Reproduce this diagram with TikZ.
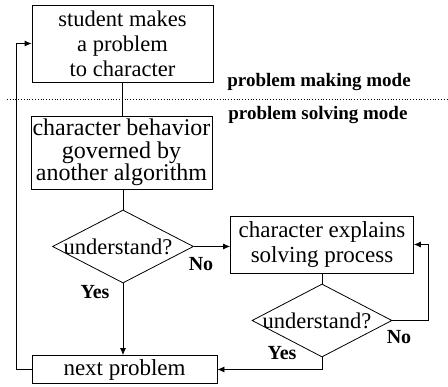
\documentclass[tikz,border=0pt]{standalone}
\usepackage{fontspec}
\setmainfont{Liberation Serif}
\usetikzlibrary{shapes.geometric,arrows.meta,calc}
\begin{document}
\begin{tikzpicture}[x=1pt,y=-1pt,
  every path/.style={line width=0.8pt},
  box/.style={draw,rectangle,inner sep=0pt,align=center,font=\fontsize{22.5}{25}\selectfont},
  decide/.style={draw,diamond,inner sep=0pt,shape aspect=1.93,minimum width=141,minimum height=73,font=\fontsize{22.5}{25}\selectfont},
  modelabel/.style={anchor=west,inner sep=0pt,font=\fontsize{19}{22}\selectfont\bfseries},
  answer/.style={inner sep=0pt,font=\fontsize{20}{22}\selectfont\bfseries},
  flow/.style={-{Latex[length=7pt,width=6pt]}}]
\useasboundingbox (0,0) rectangle (448,387);

% boxes of the flow
\node[box,minimum width=181,minimum height=77] (make) at (122.5,43.5)
  {student makes\\a problem\\to character};
\node[box,minimum width=181,minimum height=73,font=\fontsize{24}{22.5}\selectfont] (behave) at (121.5,152.5)
  {character behavior\\governed by\\another algorithm};
\node[decide] (ask1) at (123,246.5) {\hspace*{-10pt}understand?};
\node[box,minimum width=183,minimum height=57,font=\fontsize{23}{25}\selectfont] (explain) at (322,244.5)
  {character explains\\solving process};
\node[decide,minimum width=140] (ask2) at (322,320.5) {\hspace*{-10pt}understand?};
\node[box,minimum width=185,minimum height=28,font=\fontsize{23}{25}\selectfont] (next) at (124.5,369.5)
  {next problem};

% border between the two modes
\coordinate (sepL) at (7,99);
\coordinate (sepR) at (448,99);
\draw[dotted,line width=0.7pt] (sepL) -- (sepR);
\node[modelabel] (making) at (227,82) {problem making mode};
\node[modelabel] (solving) at (228,115) {problem solving mode};

% connectors
\draw (make.south) -- (make.south |- behave.north);
\draw (ask1.north |- behave.south) -- (ask1.north);
\draw[flow] (ask1.east) -- (explain.west |- ask1.east);
\draw[flow] (ask1.south) -- (ask1.south |- next.north);
\draw (explain.south) -- (ask2.north);
\draw[flow] (ask2.east) -- ++(36,0) |- (explain.east);
\draw[flow] (ask2.south) |- (next.east);
\draw[flow] (next.west) -- ++(-15,0) |- (make.west);

% answer labels
\node[answer] (no1) at (201,264) {No};
\node[answer] (yes1) at (95,292) {Yes};
\node[answer] (no2) at (399,337) {No};
\node[answer] (yes2) at (282,353) {Yes};
\end{tikzpicture}
\end{document}
